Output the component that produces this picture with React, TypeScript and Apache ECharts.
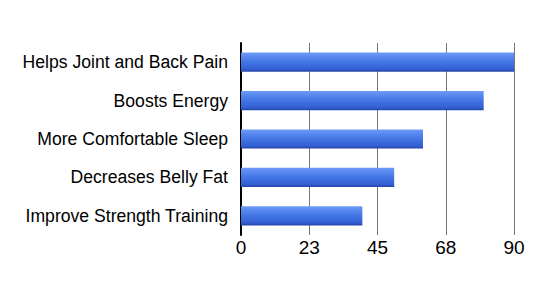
import React, { useEffect, useRef } from "react";
import * as echarts from "echarts";

const categories = [
  "Improve Strength Training",
  "Decreases Belly Fat",
  "More Comfortable Sleep",
  "Boosts Energy",
  "Helps Joint and Back Pain",
];
const values = [40, 50.5, 60, 80, 90];
const tickLabels = ["0", "23", "45", "68", "90"];

export default function App() {
  const ref = useRef<HTMLDivElement>(null);
  useEffect(() => {
    if (!ref.current) return;
    const chart = echarts.init(ref.current, null, { renderer: "svg" });
    chart.setOption({
      animation: false,
      backgroundColor: "#ffffff",
      grid: { left: 241, right: 38, top: 43, bottom: 54, containLabel: false },
      xAxis: {
        type: "value",
        min: 0,
        max: 90,
        interval: 22.5,
        axisLine: { show: false },
        axisTick: { show: false },
        splitLine: { show: true, lineStyle: { color: "#777777", width: 1 } },
        axisLabel: {
          color: "#000000",
          fontFamily: "Liberation Sans, Arial, sans-serif",
          fontSize: 19,
          margin: 3,
          formatter: (v: number) => {
            const i = Math.round(v / 22.5);
            return tickLabels[i] ?? "";
          },
        },
      },
      yAxis: {
        type: "category",
        data: categories,
        axisLine: { show: true, lineStyle: { color: "#000000", width: 2 } },
        axisTick: { show: false },
        axisLabel: {
          color: "#000000",
          fontFamily: "Liberation Sans, Arial, sans-serif",
          fontSize: 17.6,
          margin: 13,
        },
      },
      series: [
        {
          type: "bar",
          data: values,
          barCategoryGap: "50%",
          itemStyle: {
            color: new echarts.graphic.LinearGradient(0, 0, 0, 1, [
              { offset: 0, color: "#6f9cf6" },
              { offset: 0.2, color: "#5a8af0" },
              { offset: 0.55, color: "#3f72e2" },
              { offset: 0.85, color: "#3460d2" },
              { offset: 1, color: "#2445a8" },
            ]),
          },
        },
      ],
    });
    return () => chart.dispose();
  }, []);
  return <div ref={ref} style={{ width: 552, height: 289, position: "absolute", left: 0, top: 0 }} />;
}
